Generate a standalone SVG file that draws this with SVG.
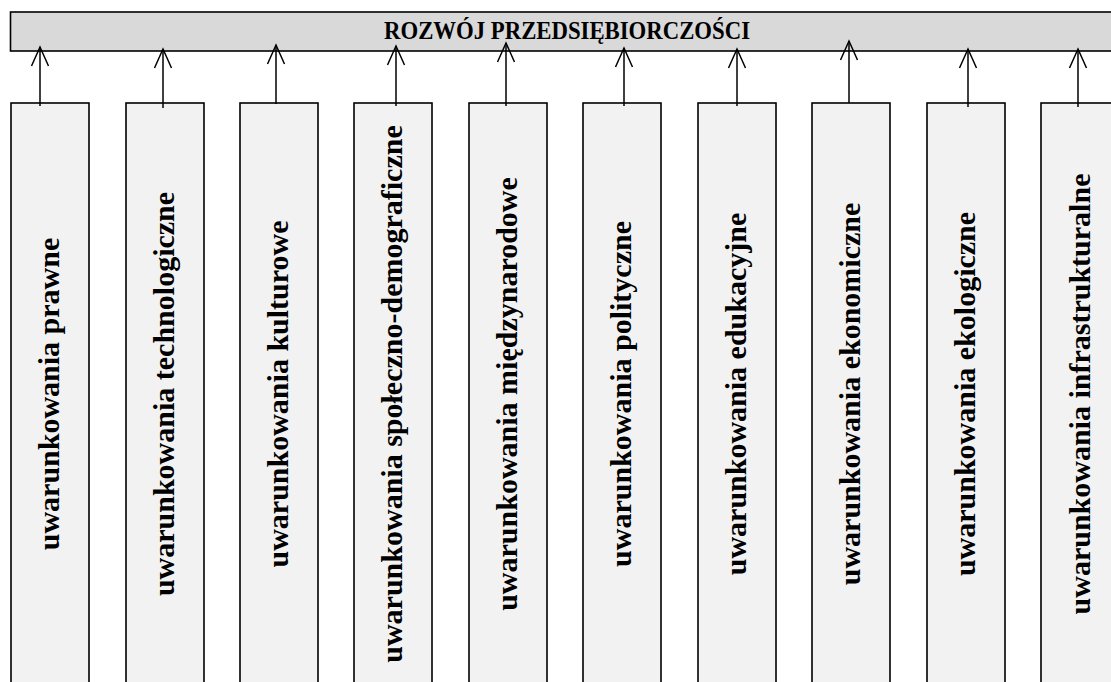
<svg xmlns="http://www.w3.org/2000/svg" width="1111" height="682" viewBox="0 0 1111 682">
<style>
.banner{fill:#d9d9d9;stroke:#000;stroke-width:1.6}
.box{fill:#f2f2f2;stroke:#000;stroke-width:1.6}
.title{font-family:"Liberation Serif","Times New Roman",serif;font-weight:bold;font-size:25px;fill:#000}
.lbl{font-family:"Liberation Serif","Times New Roman",serif;font-weight:bold;font-size:30px;fill:#000}
.arr{fill:none;stroke:#000;stroke-width:1.5;marker-end:url(#ah)}
</style>
<defs>
<marker id="ah" markerUnits="userSpaceOnUse" markerWidth="30" markerHeight="30" viewBox="0 0 30 30" refX="20" refY="15" orient="auto" overflow="visible">
<path d="M1,6.5 L20,15 L1,23.5" fill="none" stroke="#000" stroke-width="1.5"/>
</marker>
</defs>
<g id="banner">
<rect class="banner" x="10.5" y="12" width="1115" height="39"/>
<text class="title" x="567" y="39" text-anchor="middle" textLength="366" lengthAdjust="spacingAndGlyphs">ROZWÓJ PRZEDSIĘBIORCZOŚCI</text>
</g>
<g id="n1"><rect class="box" x="11" y="103" width="78" height="600"/><text class="lbl" transform="translate(59,394) rotate(-90)" text-anchor="middle">uwarunkowania prawne</text></g>
<g id="n2"><rect class="box" x="126" y="103" width="78" height="600"/><text class="lbl" transform="translate(174,394) rotate(-90)" text-anchor="middle">uwarunkowania technologiczne</text></g>
<g id="n3"><rect class="box" x="240" y="103" width="78" height="600"/><text class="lbl" transform="translate(288,394) rotate(-90)" text-anchor="middle">uwarunkowania kulturowe</text></g>
<g id="n4"><rect class="box" x="354" y="103" width="78" height="600"/><text class="lbl" transform="translate(402,394) rotate(-90)" text-anchor="middle">uwarunkowania społeczno-demograficzne</text></g>
<g id="n5"><rect class="box" x="469" y="103" width="78" height="600"/><text class="lbl" transform="translate(517,394) rotate(-90)" text-anchor="middle">uwarunkowania międzynarodowe</text></g>
<g id="n6"><rect class="box" x="583" y="103" width="78" height="600"/><text class="lbl" transform="translate(631,394) rotate(-90)" text-anchor="middle">uwarunkowania polityczne</text></g>
<g id="n7"><rect class="box" x="698" y="103" width="78" height="600"/><text class="lbl" transform="translate(746,394) rotate(-90)" text-anchor="middle">uwarunkowania edukacyjne</text></g>
<g id="n8"><rect class="box" x="812" y="103" width="78" height="600"/><text class="lbl" transform="translate(860,394) rotate(-90)" text-anchor="middle">uwarunkowania ekonomiczne</text></g>
<g id="n9"><rect class="box" x="927" y="103" width="78" height="600"/><text class="lbl" transform="translate(975,394) rotate(-90)" text-anchor="middle">uwarunkowania ekologiczne</text></g>
<g id="n10"><rect class="box" x="1041" y="103" width="78" height="600"/><text class="lbl" transform="translate(1090,394) rotate(-90)" text-anchor="middle">uwarunkowania infrastrukturalne</text></g>
<g id="connectors">
<path class="arr" d="M40,106 V47"/>
<path class="arr" d="M163,108 V49"/>
<path class="arr" d="M276,104 V45"/>
<path class="arr" d="M396,106 V46"/>
<path class="arr" d="M506,106 V43"/>
<path class="arr" d="M624,106 V48"/>
<path class="arr" d="M737,106 V49"/>
<path class="arr" d="M849,103 V41"/>
<path class="arr" d="M968,107 V49"/>
<path class="arr" d="M1078,107 V49"/>
</g>
</svg>
